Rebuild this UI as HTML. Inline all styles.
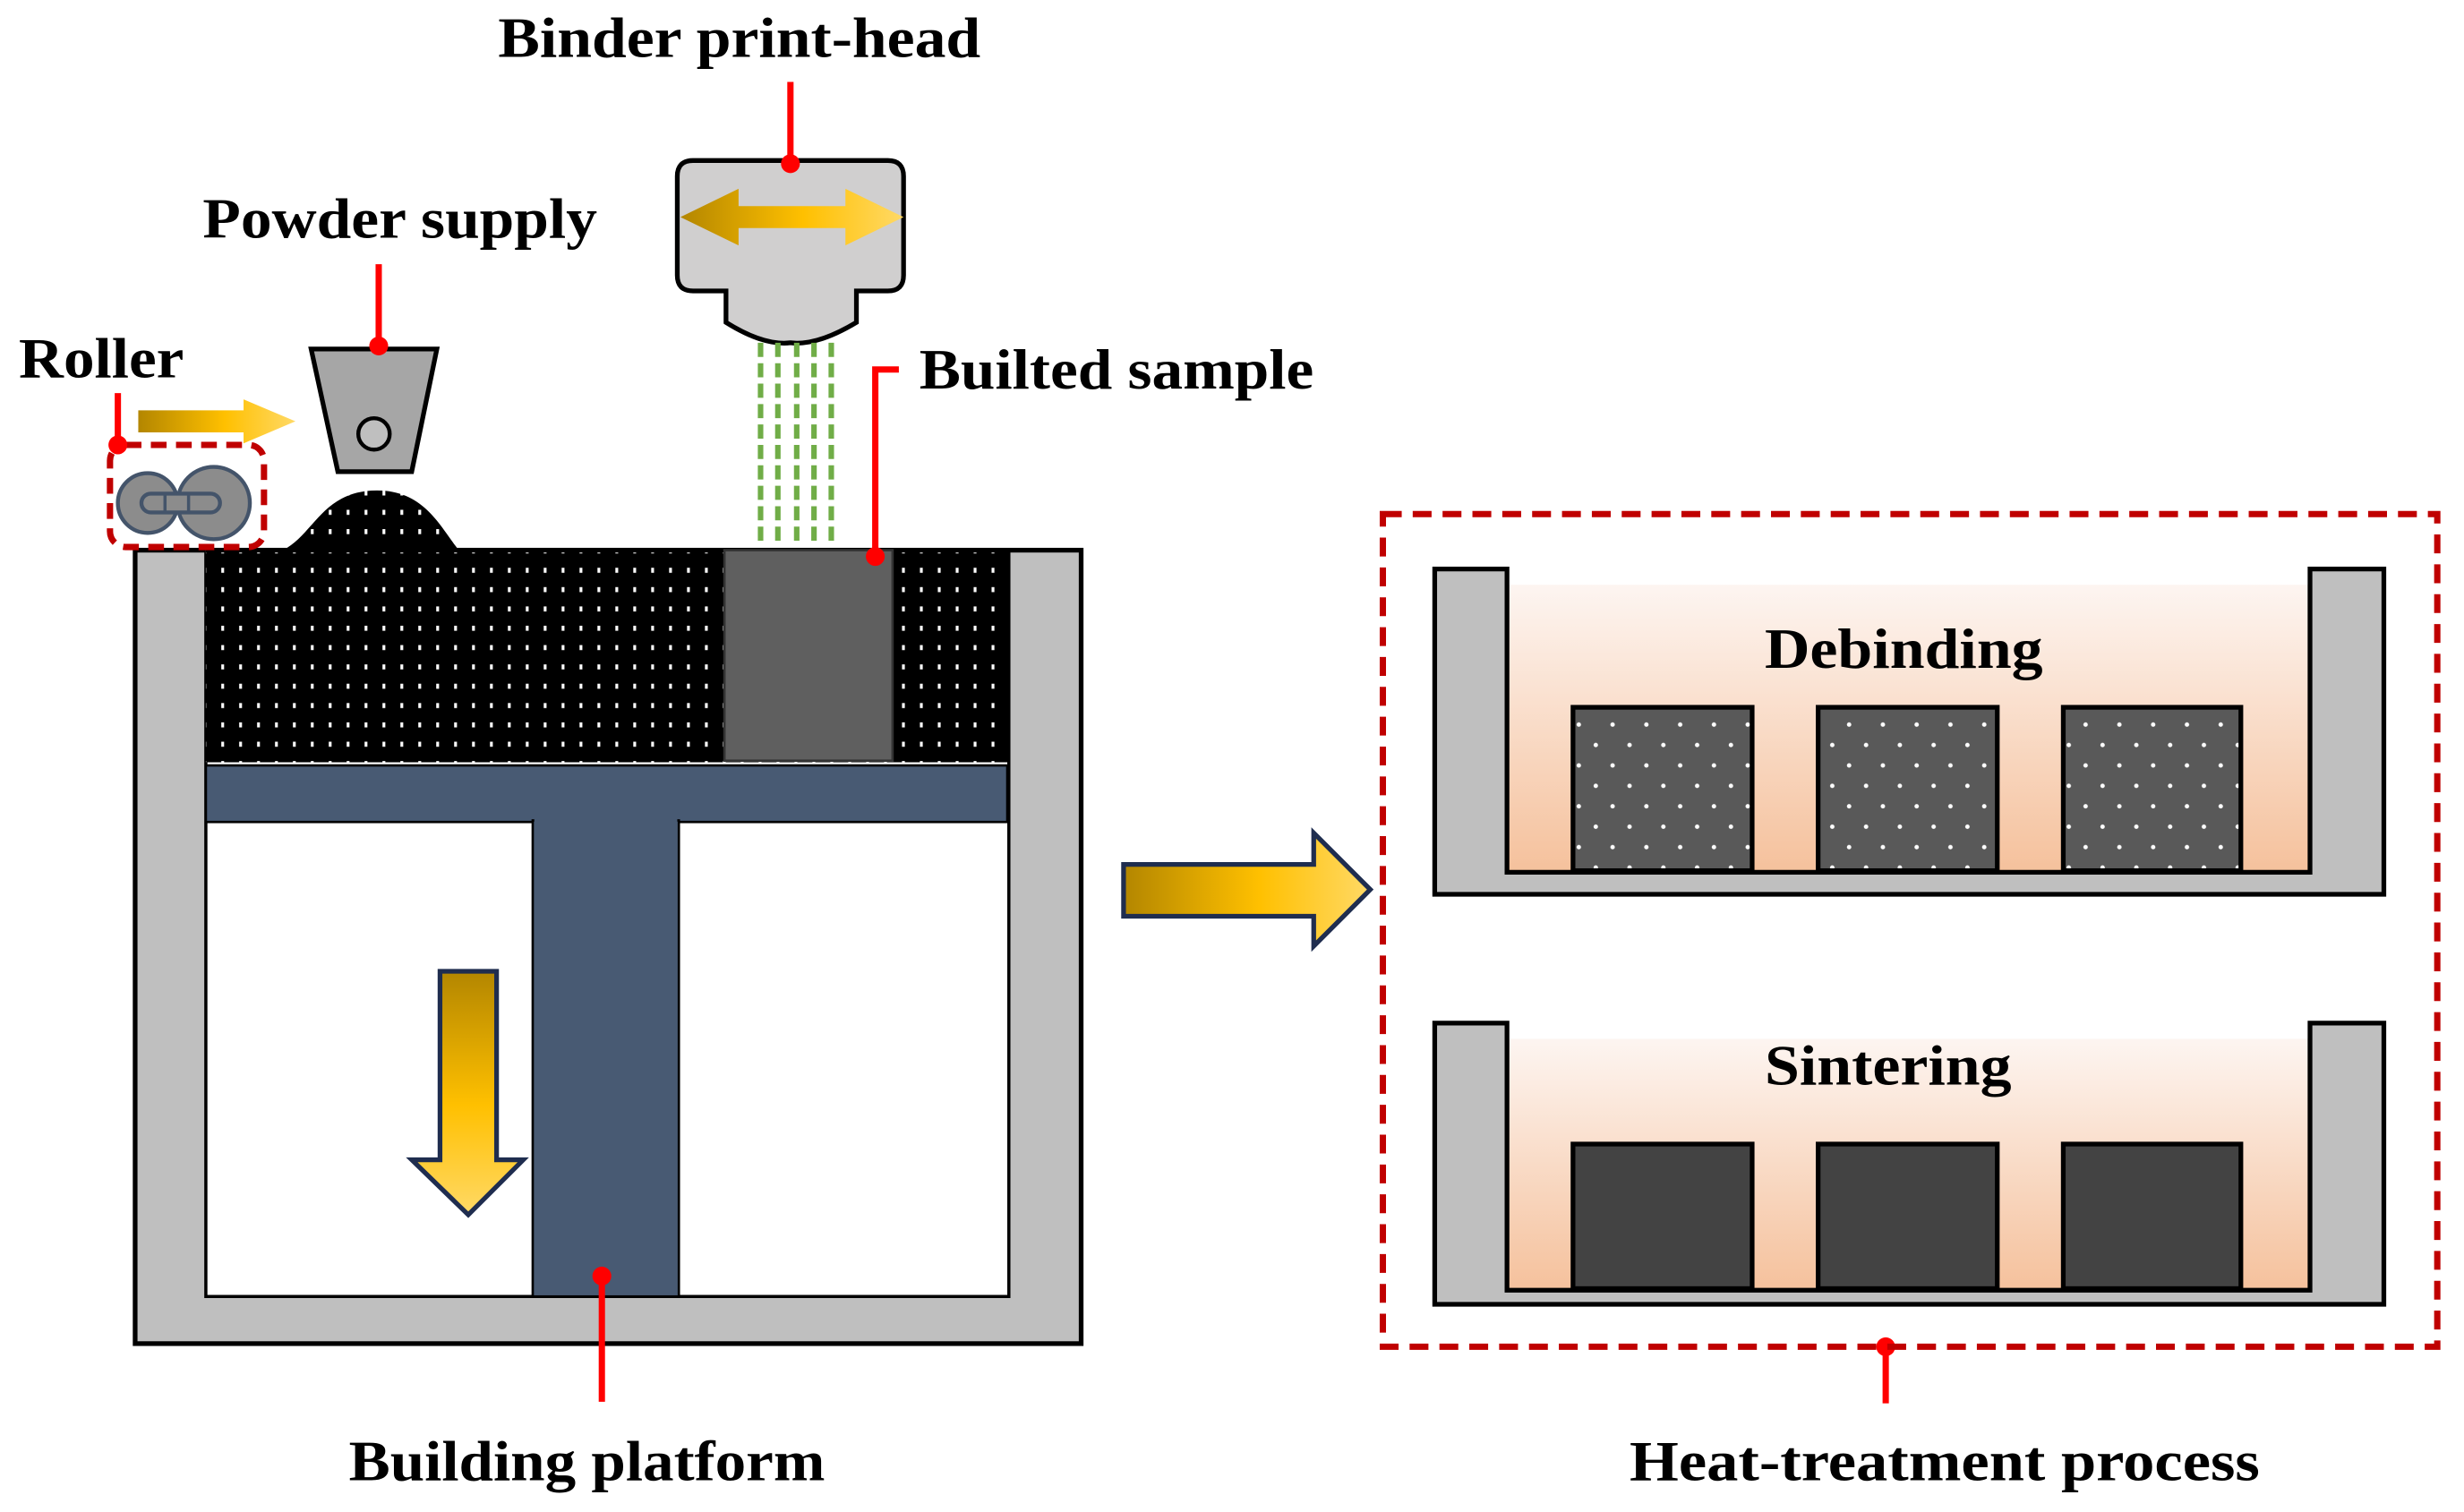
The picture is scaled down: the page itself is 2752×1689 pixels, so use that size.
<!DOCTYPE html>
<html><head><meta charset="utf-8"><style>html,body{margin:0;padding:0;background:#fff}svg{display:block}text{font-family:"Liberation Serif",serif;font-weight:bold;fill:#000}</style></head>
<body>
<svg width="2752" height="1689" viewBox="0 0 1568 962" xmlns="http://www.w3.org/2000/svg">
<defs>
<linearGradient id="gh" x1="0" x2="1" y1="0" y2="0"><stop offset="0" stop-color="#b38600"/><stop offset="0.55" stop-color="#ffc000"/><stop offset="1" stop-color="#ffd966"/></linearGradient>
<linearGradient id="gv" x1="0" x2="0" y1="0" y2="1"><stop offset="0" stop-color="#b38600"/><stop offset="0.55" stop-color="#ffc000"/><stop offset="1" stop-color="#ffd966"/></linearGradient>
<linearGradient id="heat" x1="0" x2="0" y1="0" y2="1"><stop offset="0" stop-color="#fdf5f1"/><stop offset="1" stop-color="#f5c19c"/></linearGradient>
<pattern id="pd" width="11.4" height="12.3" patternUnits="userSpaceOnUse"><rect width="11.4" height="12.3" fill="#000"/><rect x="4" y="4.5" width="1.8" height="3.2" fill="#fff"/></pattern>
<pattern id="bd" width="21.5" height="26" patternUnits="userSpaceOnUse"><rect width="21.5" height="26" fill="#595959"/><circle cx="5" cy="6" r="1.4" fill="#fff"/><circle cx="15.7" cy="19" r="1.4" fill="#fff"/></pattern>
</defs>

<!-- labels -->
<text x="317" y="36" font-size="36" textLength="307" lengthAdjust="spacingAndGlyphs">Binder print-head</text>
<text x="129" y="151" font-size="36" textLength="251" lengthAdjust="spacingAndGlyphs">Powder supply</text>
<text x="12" y="240" font-size="36" textLength="105" lengthAdjust="spacingAndGlyphs">Roller</text>
<text x="585" y="247" font-size="36" textLength="251" lengthAdjust="spacingAndGlyphs">Builted sample</text>
<text x="222" y="942" font-size="36" textLength="303" lengthAdjust="spacingAndGlyphs">Building platform</text>
<text x="1037" y="942" font-size="36" textLength="401" lengthAdjust="spacingAndGlyphs">Heat-treatment process</text>

<!-- container -->
<rect x="86" y="350" width="602" height="505" fill="#bfbfbf" stroke="#000" stroke-width="3"/>
<rect x="131" y="350" width="511" height="475" fill="#fff" stroke="#000" stroke-width="2"/>
<rect x="131" y="350" width="511" height="135" fill="url(#pd)"/>
<path d="M180 350 C200 340 205 312 240 312 C270 312 280 335 292 350 Z" fill="url(#pd)"/>
<line x1="131" y1="350" x2="642" y2="350" stroke="#000" stroke-width="3"/>
<rect x="461" y="350" width="107" height="134" fill="#5f5f5f" stroke="#333" stroke-width="1.5"/>
<rect x="131" y="487" width="510" height="36" fill="#485a73" stroke="#000" stroke-width="1.5"/>
<rect x="339" y="522" width="93" height="303" fill="#485a73" stroke="#000" stroke-width="1.5"/>
<rect x="340" y="520" width="91" height="5" fill="#485a73"/>

<!-- down arrow -->
<path d="M280 618 H316 V738 H333 L298 773 L262 738 H280 Z" fill="url(#gv)" stroke="#1f2d4f" stroke-width="3"/>

<!-- print head -->
<path d="M441 102 H565 Q575 102 575 112 V175 Q575 185 565 185 H545 V205 Q520 220 503 218 Q486 220 462 205 V185 H441 Q431 185 431 175 V112 Q431 102 441 102 Z" fill="#d0cfcf" stroke="#000" stroke-width="3"/>
<path d="M433 138 L470 120 V131 H538 V120 L575 138 L538 156 V145 H470 V156 Z" fill="url(#gh)"/>
<g stroke="#70ad47" stroke-width="3.5" stroke-dasharray="9 4">
<line x1="484" y1="218" x2="484" y2="344"/><line x1="495" y1="218" x2="495" y2="344"/><line x1="507" y1="218" x2="507" y2="344"/><line x1="518" y1="218" x2="518" y2="344"/><line x1="529" y1="218" x2="529" y2="344"/>
</g>

<!-- hopper -->
<path d="M198 222 H278 L262 300 H215 Z" fill="#a6a6a6" stroke="#000" stroke-width="3"/>
<circle cx="238" cy="276" r="10" fill="#bfbfbf" stroke="#000" stroke-width="2.5"/>

<!-- roller -->
<path d="M88 261 H155 V254 L188 268 L155 282 V275 H88 Z" fill="url(#gh)"/>
<rect x="70" y="283" width="98" height="65" rx="10" fill="none" stroke="#c00000" stroke-width="4" stroke-dasharray="10 6"/>
<circle cx="94" cy="320" r="19" fill="#8c8c8c" stroke="#44546a" stroke-width="2.5"/>
<circle cx="136" cy="320" r="23" fill="#8c8c8c" stroke="#44546a" stroke-width="2.5"/>
<rect x="90" y="314" width="50" height="12" rx="6" fill="#8c8c8c" stroke="#44546a" stroke-width="2.5"/>
<line x1="105" y1="314" x2="105" y2="326" stroke="#44546a" stroke-width="2"/><line x1="120" y1="314" x2="120" y2="326" stroke="#44546a" stroke-width="2"/>

<!-- red connectors -->
<g stroke="#ff0000" stroke-width="4" fill="none">
<line x1="503" y1="52" x2="503" y2="104"/>
<line x1="241" y1="168" x2="241" y2="220"/>
<line x1="75" y1="250" x2="75" y2="283"/>
<polyline points="572,235 557,235 557,354"/>
<line x1="383" y1="812" x2="383" y2="892"/>
<line x1="1200" y1="857" x2="1200" y2="893"/>
</g>
<g fill="#ff0000">
<circle cx="503" cy="104" r="6"/><circle cx="241" cy="220" r="6"/><circle cx="75" cy="283" r="6"/><circle cx="557" cy="354" r="6"/><circle cx="383" cy="812" r="6"/><circle cx="1200" cy="857" r="6"/>
</g>

<!-- big arrow -->
<path d="M715 550 H836 V530 L872 566 L836 602 V583 H715 Z" fill="url(#gh)" stroke="#1f2d4f" stroke-width="3"/>

<!-- heat treatment box -->
<rect x="880" y="327" width="671" height="530" fill="none" stroke="#c00000" stroke-width="4" stroke-dasharray="12 7"/>

<!-- debinding tray -->
<rect x="959" y="372" width="511" height="183" fill="url(#heat)"/>
<path d="M913 362 H959 V555 H1470 V362 H1517 V569 H913 Z" fill="#bfbfbf" stroke="#000" stroke-width="3"/>
<rect x="1001" y="450" width="114" height="104" fill="url(#bd)" stroke="#000" stroke-width="3"/>
<rect x="1157" y="450" width="114" height="104" fill="url(#bd)" stroke="#000" stroke-width="3"/>
<rect x="1313" y="450" width="113" height="104" fill="url(#bd)" stroke="#000" stroke-width="3"/>
<text x="1123" y="425" font-size="36" textLength="177" lengthAdjust="spacingAndGlyphs">Debinding</text>

<!-- sintering tray -->
<rect x="959" y="661" width="511" height="160" fill="url(#heat)"/>
<path d="M913 651 H959 V821 H1470 V651 H1517 V830 H913 Z" fill="#bfbfbf" stroke="#000" stroke-width="3"/>
<rect x="1001" y="728" width="114" height="92" fill="#434343" stroke="#000" stroke-width="3"/>
<rect x="1157" y="728" width="114" height="92" fill="#434343" stroke="#000" stroke-width="3"/>
<rect x="1313" y="728" width="113" height="92" fill="#434343" stroke="#000" stroke-width="3"/>
<text x="1123" y="690" font-size="36" textLength="157" lengthAdjust="spacingAndGlyphs">Sintering</text>
</svg>
</body></html>
